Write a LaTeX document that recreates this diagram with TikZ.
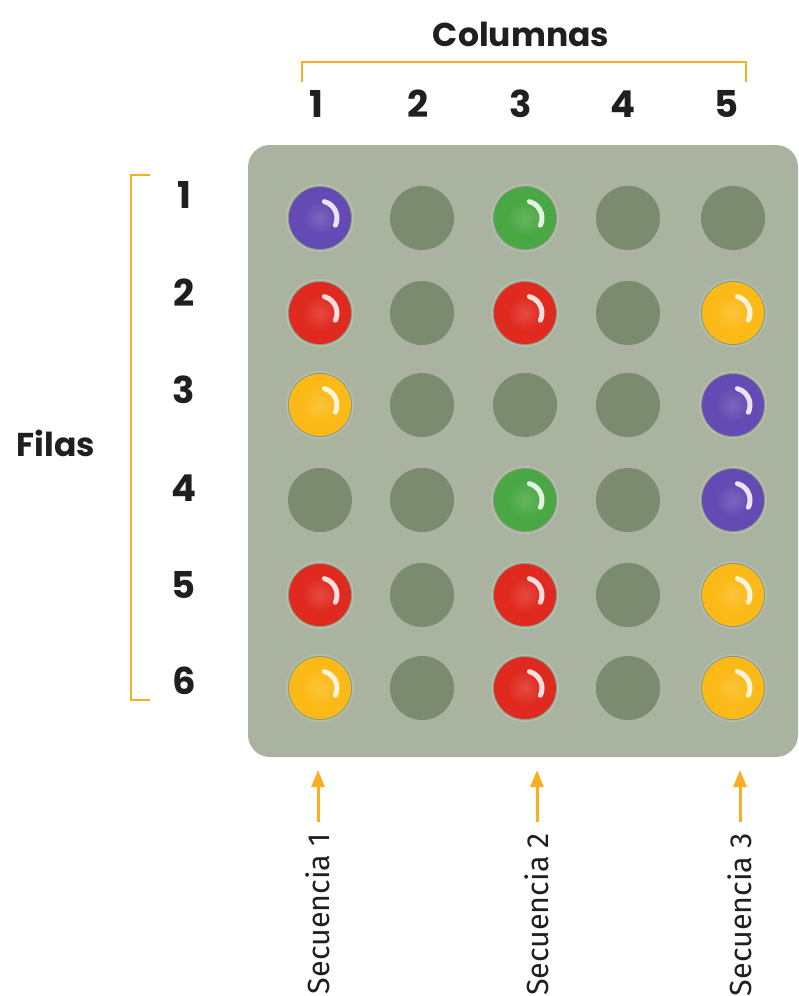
\documentclass[tikz,border=0pt]{standalone}
\usepackage{fontspec}
\setmainfont{Poppins}
\newfontfamily\seqfont{Fira Sans}
\usetikzlibrary{arrows.meta}

\definecolor{boardgray}{RGB}{170,179,160}
\definecolor{holegreen}{RGB}{122,139,112}
\definecolor{markorange}{RGB}{250,174,36}
\definecolor{inkblack}{RGB}{32,30,30}
\definecolor{ballpurple}{RGB}{100,74,180}
\definecolor{ballred}{RGB}{224,42,32}
\definecolor{ballyellow}{RGB}{252,186,24}
\definecolor{ballgreen}{RGB}{74,168,68}
\colorlet{ballin}{ballred}
\colorlet{ballout}{black}
\pgfdeclareradialshading[ballin,ballout]{ballshade}{\pgfpoint{0bp}{0bp}}{%
  color(0bp)=(ballin!85!white); color(14bp)=(ballin); color(36bp)=(ballin);
  color(50bp)=(ballout)}

\tikzset{
  bracketline/.style={draw=markorange, line width=2pt},
  seqarrow/.style={draw=markorange, line width=3pt, -{Triangle[width=13pt,length=17pt]}},
  numlabel/.style={font=\fontsize{37}{40}\selectfont\bfseries, text=inkblack, inner sep=0pt},
  titlelabel/.style={font=\fontsize{33}{36}\selectfont\bfseries, text=inkblack, inner sep=0pt},
  seqlabel/.style={font=\seqfont\fontsize{30.5}{33}\selectfont, text=inkblack, rotate=90, anchor=east, inner sep=0pt},
  hole/.style={circle, fill=holegreen, minimum size=64pt, inner sep=0pt},
}

\begin{document}
\begin{tikzpicture}[x=1pt,y=-1pt]
    \useasboundingbox (0,0) rectangle (798,996);
    % tablero
    \fill[boardgray, rounded corners=22pt] (248,145) rectangle (798,757);
    \foreach \c/\x in {1/320,2/422,3/525,4/628,5/733} {
        \foreach \r/\y in {1/218,2/313,3/405,4/500,5/595,6/688} {
            \node[hole] (h\c\r) at (\x,\y) {};
        }
    }
    % fichas
    \foreach \c/\r/\col in {1/1/ballpurple,3/1/ballgreen,
        1/2/ballred,3/2/ballred,5/2/ballyellow,
        1/3/ballyellow,5/3/ballpurple,
        3/4/ballgreen,5/4/ballpurple,
        1/5/ballred,3/5/ballred,5/5/ballyellow,
        1/6/ballyellow,3/6/ballred,5/6/ballyellow} {
        \fill[white, opacity=.12] (h\c\r.center) circle (34);
        \colorlet{ballin}{\col}
        \colorlet{ballout}{\col!40!black}
        \shade[shading=ballshade] (h\c\r.center) circle (31);
        \draw[white, line width=5pt, line cap=round, opacity=.85]
            ([shift={(-75:17)}]h\c\r.center) arc[start angle=-75, end angle=25, radius=17];
    }
    % columnas
    \node[titlelabel] (columnas) at (521,34) {Columnas};
    \draw[bracketline] (302,82) -- (302,62) -- (746,62) -- (746,82);
    \foreach \c/\x in {1/316,2/418,3/521,4/623,5/727} {
        \node[numlabel] (col\c) at (\x,104) {\c};
    }
    % filas
    \node[titlelabel] (filas) at (56,443) {Filas};
    \draw[bracketline] (150,175) -- (131,175) -- (131,700) -- (150,700);
    \foreach \r/\y in {1/195,2/293,3/390,4/488,5/585,6/681} {
        \node[numlabel] (fila\r) at (184,\y) {\r};
    }
    % secuencias
    \foreach \s/\x in {1/318,2/537,3/740} {
        \coordinate (tip\s) at (\x,770);
        \node[seqlabel] (seq\s) at (\x,833) {Secuencia \s};
        \draw[seqarrow] ([yshift=11pt]seq\s.east) -- (tip\s);
    }
\end{tikzpicture}
\end{document}
